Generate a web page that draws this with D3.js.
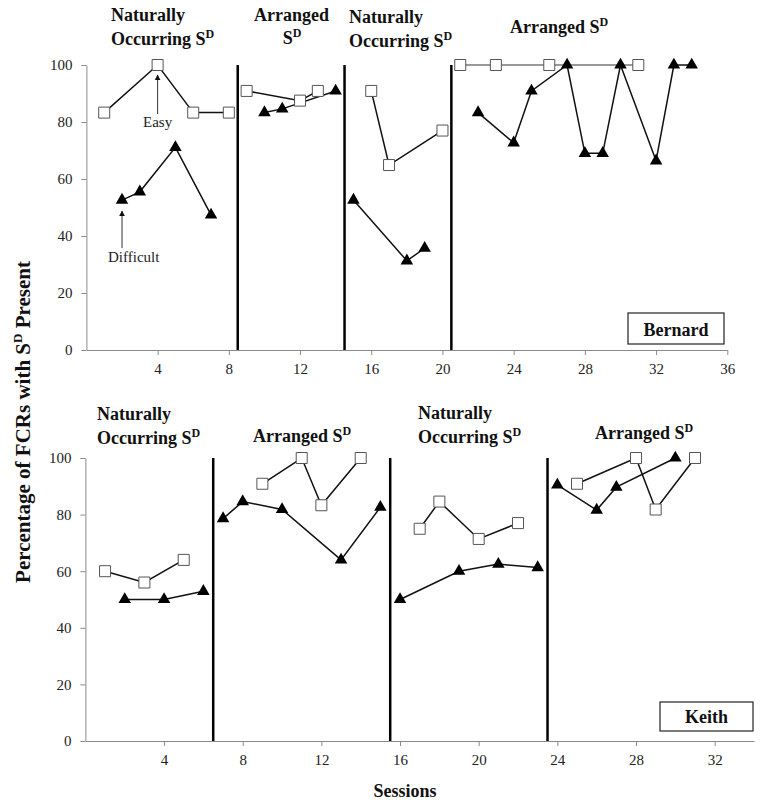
<!DOCTYPE html>
<html>
<head>
<meta charset="utf-8">
<script src="https://cdn.jsdelivr.net/npm/d3@7"></script>
<style>
	body { margin: 0; background: white; }
	svg, svg text { font-family: "Liberation Serif", "DejaVu Serif", serif; }
	.axis path, .axis line { stroke: #8a8a8a; }
	.axis text { font-size: 15px; fill: #222; font-family: "Liberation Serif", serif; }
	.phase { font-size: 18px; font-weight: bold; fill: #111; }
</style>
</head>
<body>
<svg id="chart" width="762" height="807" font-family="Liberation Serif"></svg>
<script>
// values
const yTicks = [0, 20, 40, 60, 80, 100];
const bernardXTicks = [4, 8, 12, 16, 20, 24, 28, 32, 36];
const keithXTicks = [4, 8, 12, 16, 20, 24, 28, 32];

const bernardPhaseChanges = [8.5, 14.5, 20.5];
const keithPhaseChanges = [6.5, 15.5, 23.5];

const bernardEasySessions = [1, 4, 6, 8, 9, 12, 13, 16, 17, 20, 21, 23, 26, 31];
const bernardEasyValues = [83.3, 100, 83.3, 83.3, 90.9, 87.5, 90.9, 90.9, 64.9, 77, 100, 100, 100, 100];
const bernardDifficultSessions = [2, 3, 5, 7, 10, 11, 14, 15, 18, 19, 22, 24, 25, 27, 28, 29, 30, 32, 33, 34];
const bernardDifficultValues = [52.6, 55.5, 71.1, 47.4, 83.3, 84.6, 90.9, 52.6, 31.3, 35.7, 83.3, 72.7, 90.9, 100, 69, 69, 100, 66.4, 100, 100];

const keithEasySessions = [1, 3, 5, 9, 11, 12, 14, 17, 18, 20, 22, 25, 28, 29, 31];
const keithEasyValues = [60, 56, 64, 90.9, 100, 83.3, 100, 75, 84.6, 71.4, 77, 90.9, 100, 81.8, 100];
const keithDifficultSessions = [2, 4, 6, 7, 8, 10, 13, 15, 16, 19, 21, 23, 24, 26, 27, 30];
const keithDifficultValues = [50, 50, 52.9, 78.6, 84.6, 81.8, 64, 82.6, 50, 60, 62.5, 61.3, 90.5, 81.6, 89.7, 100];

const svg = d3.select("#chart");

// arrowhead for the Easy / Difficult notes
svg.append("defs").append("marker")
	.attr("id", "arrow")
	.attr("viewBox", "0 0 10 10")
	.attr("refX", 9)
	.attr("refY", 5)
	.attr("markerWidth", 6)
	.attr("markerHeight", 7)
	.attr("markerUnits", "userSpaceOnUse")
	.attr("orient", "auto")
	.append("path")
	.attr("d", "M0,0 L10,5 L0,10 Z")
	.attr("fill", "#111");

// split points into the phases between the condition lines
function splitByPhase(sessions, values, changes) {
	let groups = [];
	sessions.forEach(function(s, i) {
		let phase = changes.filter(function(c) { return c < s; }).length;
		if (!groups[phase]) groups[phase] = [];
		groups[phase].push([s, values[i]]);
	});
	return groups.filter(function(g) { return g; });
}

function addLabel(g, x, y, parts, anchor) {
	let t = g.append("text")
		.attr("class", "phase")
		.attr("x", x)
		.attr("y", y)
		.attr("text-anchor", anchor || "start");
	parts.forEach(function(p) {
		if (p.sup) {
			t.append("tspan").attr("dy", -7).style("font-size", "12px").text(p.text);
		} else {
			t.append("tspan").text(p.text);
		}
	});
	return t;
}

function drawPanel(opts) {
	let x = d3.scaleLinear().domain([0, opts.xMax]).range([opts.left, opts.right]);
	let y = d3.scaleLinear().domain([0, 100]).range([opts.bottom, opts.top]);
	let g = svg.append("g");

	g.append("g")
		.attr("class", "axis")
		.attr("transform", "translate(0," + opts.bottom + ")")
		.call(d3.axisBottom(x).tickValues(opts.xTicks).tickSize(5).tickSizeOuter(0).tickPadding(8));
	g.append("g")
		.attr("class", "axis")
		.attr("transform", "translate(" + opts.left + ",0)")
		.call(d3.axisLeft(y).tickValues(yTicks).tickSize(5).tickSizeOuter(0).tickPadding(9));
	g.selectAll(".axis .domain").attr("stroke", "#8a8a8a");
	g.selectAll(".axis text").attr("font-family", "Liberation Serif");

	// condition change lines
	g.selectAll(".change")
		.data(opts.changes)
		.enter()
		.append("line")
		.attr("x1", function(d) { return x(d); })
		.attr("x2", function(d) { return x(d); })
		.attr("y1", y(100))
		.attr("y2", y(0))
		.attr("stroke", "#000")
		.attr("stroke-width", 2.5);

	let line = d3.line()
		.x(function(d) { return x(d[0]); })
		.y(function(d) { return y(d[1]); });

	let easy = splitByPhase(opts.easySessions, opts.easyValues, opts.changes);
	let difficult = splitByPhase(opts.difficultSessions, opts.difficultValues, opts.changes);

	g.selectAll(".easyLine")
		.data(easy)
		.enter()
		.append("path")
		.attr("d", line)
		.attr("fill", "none")
		.attr("stroke", function(d, i) { return (opts.grayLast && i === easy.length - 1) ? "#777" : "#111"; })
		.attr("stroke-width", 1.5);

	g.selectAll(".diffLine")
		.data(difficult)
		.enter()
		.append("path")
		.attr("d", line)
		.attr("fill", "none")
		.attr("stroke", "#111")
		.attr("stroke-width", 1.5);

	let square = d3.symbol().type(d3.symbolSquare).size(121);
	let triangle = d3.symbol().type(d3.symbolTriangle).size(68);

	g.selectAll(".sq")
		.data(d3.zip(opts.easySessions, opts.easyValues))
		.enter()
		.append("path")
		.attr("d", square)
		.attr("transform", function(d) { return "translate(" + x(d[0]) + "," + y(d[1]) + ")"; })
		.attr("fill", "white")
		.attr("stroke", "#555")
		.attr("stroke-width", 1);

	g.selectAll(".tri")
		.data(d3.zip(opts.difficultSessions, opts.difficultValues))
		.enter()
		.append("path")
		.attr("d", triangle)
		.attr("transform", function(d) { return "translate(" + x(d[0]) + "," + y(d[1]) + ")"; })
		.attr("fill", "#000");

	// participant name box
	g.append("rect")
		.attr("x", opts.box[0])
		.attr("y", opts.box[1])
		.attr("width", opts.box[2])
		.attr("height", opts.box[3])
		.attr("fill", "white")
		.attr("stroke", "#222")
		.attr("stroke-width", 1.2);
	g.append("text")
		.attr("class", "phase")
		.attr("x", opts.box[0] + opts.box[2] / 2)
		.attr("y", opts.box[1] + opts.box[3] - 8)
		.attr("text-anchor", "middle")
		.text(opts.name);

	return { g: g, x: x, y: y };
}

let topPanel = drawPanel({
	name: "Bernard",
	xMax: 36, xTicks: bernardXTicks,
	left: 86.4, right: 727.3, top: 65, bottom: 350,
	changes: bernardPhaseChanges,
	easySessions: bernardEasySessions, easyValues: bernardEasyValues,
	difficultSessions: bernardDifficultSessions, difficultValues: bernardDifficultValues,
	grayLast: true,
	box: [628, 313, 96, 31]
});

let bottomPanel = drawPanel({
	name: "Keith",
	xMax: 34, xTicks: keithXTicks,
	left: 85.4, right: 754, top: 458, bottom: 741,
	changes: keithPhaseChanges,
	easySessions: keithEasySessions, easyValues: keithEasyValues,
	difficultSessions: keithDifficultSessions, difficultValues: keithDifficultValues,
	grayLast: false,
	box: [660, 702, 93, 29]
});

// phase titles, top panel
addLabel(svg, 111, 21, [{ text: "Naturally" }]);
addLabel(svg, 111, 45, [{ text: "Occurring S" }, { text: "D", sup: true }]);
addLabel(svg, 254, 21, [{ text: "Arranged" }]);
addLabel(svg, 292, 44, [{ text: "S" }, { text: "D", sup: true }], "middle");
addLabel(svg, 349, 23, [{ text: "Naturally" }]);
addLabel(svg, 349, 47, [{ text: "Occurring S" }, { text: "D", sup: true }]);
addLabel(svg, 510, 33, [{ text: "Arranged S" }, { text: "D", sup: true }]);

// phase titles, bottom panel
addLabel(svg, 97, 420, [{ text: "Naturally" }]);
addLabel(svg, 97, 444, [{ text: "Occurring S" }, { text: "D", sup: true }]);
addLabel(svg, 253, 442, [{ text: "Arranged S" }, { text: "D", sup: true }]);
addLabel(svg, 418, 419, [{ text: "Naturally" }]);
addLabel(svg, 418, 443, [{ text: "Occurring S" }, { text: "D", sup: true }]);
addLabel(svg, 595, 439, [{ text: "Arranged S" }, { text: "D", sup: true }]);

// Easy / Difficult notes pointing at the first points
svg.append("line")
	.attr("x1", topPanel.x(4)).attr("x2", topPanel.x(4))
	.attr("y1", 114).attr("y2", 75)
	.attr("stroke", "#333").attr("stroke-width", 1)
	.attr("marker-end", "url(#arrow)");
svg.append("text")
	.attr("x", 143).attr("y", 127)
	.attr("font-size", "15px").attr("fill", "#222")
	.text("Easy");

svg.append("line")
	.attr("x1", topPanel.x(2)).attr("x2", topPanel.x(2))
	.attr("y1", 248).attr("y2", 211)
	.attr("stroke", "#333").attr("stroke-width", 1)
	.attr("marker-end", "url(#arrow)");
svg.append("text")
	.attr("x", 108).attr("y", 262)
	.attr("font-size", "15px").attr("fill", "#222")
	.text("Difficult");

// axis titles
let yTitle = svg.append("text")
	.attr("class", "phase")
	.attr("transform", "translate(30,422) rotate(-90)")
	.attr("text-anchor", "middle")
	.style("font-size", "21px");
yTitle.append("tspan").text("Percentage of FCRs with S");
yTitle.append("tspan").attr("dy", -8).style("font-size", "13px").text("D");
yTitle.append("tspan").attr("dy", 8).text(" Present");

svg.append("text")
	.attr("class", "phase")
	.attr("x", 405).attr("y", 797)
	.attr("text-anchor", "middle")
	.text("Sessions");
</script>
</body>
</html>
